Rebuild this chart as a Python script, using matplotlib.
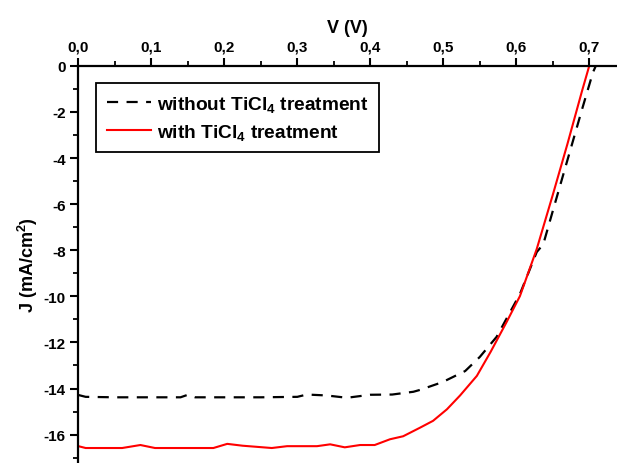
import matplotlib
matplotlib.use("Agg")
import matplotlib.pyplot as plt
from matplotlib.ticker import MultipleLocator, FuncFormatter

plt.rcParams['font.family'] = ['Liberation Sans', 'DejaVu Sans']
plt.rcParams['font.weight'] = 'bold'
plt.rcParams['mathtext.fontset'] = 'custom'
plt.rcParams['mathtext.rm'] = 'Liberation Sans:bold'
plt.rcParams['mathtext.it'] = 'Liberation Sans:bold'
plt.rcParams['mathtext.bf'] = 'Liberation Sans:bold'

# without TiCl4 (dashed black)
v_without = [0.0, 0.01, 0.05, 0.10, 0.14, 0.15, 0.16, 0.20, 0.25, 0.30, 0.313, 0.34, 0.368,
             0.40, 0.43, 0.459, 0.468, 0.499, 0.530, 0.550, 0.573, 0.605, 0.628, 0.637,
             0.65, 0.67, 0.69, 0.705, 0.709]
j_without = [-14.28, -14.36, -14.38, -14.38, -14.38, -14.27, -14.38, -14.38, -14.38, -14.36,
             -14.26, -14.3, -14.4, -14.27, -14.26, -14.14, -14.06, -13.72, -13.24, -12.63,
             -11.76, -9.9, -8.08, -7.74, -6.3, -4.1, -1.9, -0.29, 0.0]

# with TiCl4 (solid red)
v_with = [0.0, 0.01, 0.06, 0.085, 0.105, 0.185, 0.204, 0.225, 0.265, 0.286, 0.327, 0.345,
          0.365, 0.386, 0.406, 0.427, 0.445, 0.468, 0.486, 0.505, 0.523, 0.546, 0.565,
          0.587, 0.605, 0.628, 0.65, 0.67, 0.69, 0.700]
j_with = [-16.5, -16.58, -16.58, -16.45, -16.58, -16.58, -16.4, -16.48, -16.58, -16.5,
          -16.5, -16.42, -16.55, -16.45, -16.45, -16.2, -16.07, -15.7, -15.4, -14.9,
          -14.3, -13.45, -12.4, -11.1, -9.99, -7.95, -5.6, -3.4, -1.1, 0.0]

fig = plt.figure(figsize=(6.17, 4.64), dpi=100)
ax = fig.add_axes([0.127, 0.0, 0.873, 0.856])

ax.plot(v_without, j_without, color='black', lw=1.6, dashes=(5.0, 3.8),
        label='without TiCl$_4$ treatment')
ax.plot(v_with, j_with, color='#ff0000', lw=1.5, label='with TiCl$_4$ treatment')

ax.set_xlim(0, 0.738)
ax.set_ylim(-17.23, 0)

ax.spines['right'].set_visible(False)
ax.spines['bottom'].set_visible(False)
ax.spines['top'].set_linewidth(1.6)
ax.spines['left'].set_linewidth(1.6)

ax.xaxis.tick_top()
ax.xaxis.set_label_position('top')
ax.xaxis.set_major_locator(MultipleLocator(0.1))
ax.xaxis.set_minor_locator(MultipleLocator(0.05))
ax.yaxis.set_major_locator(MultipleLocator(2))
ax.yaxis.set_minor_locator(MultipleLocator(1))
ax.xaxis.set_major_formatter(FuncFormatter(lambda v, p: f"{v:.1f}".replace('.', ',')))
ax.yaxis.set_major_formatter(FuncFormatter(lambda v, p: f"{v:.0f}"))

ax.tick_params(which='major', direction='out', length=6, width=1.5, labelsize=11, pad=3)
ax.tick_params(which='minor', direction='out', length=3.5, width=1.3)
ax.tick_params(axis='x', which='both', top=True, bottom=False)
ax.tick_params(axis='y', which='both', left=True, right=False)

ax.set_xlabel('V (V)', fontsize=13, fontweight='bold', labelpad=5)
ax.set_ylabel('J (mA/cm$^2$)', fontsize=13, fontweight='bold', labelpad=3)

leg = ax.legend(loc='upper left', bbox_to_anchor=(0.033, 0.956), borderaxespad=0,
                fancybox=False, framealpha=1, edgecolor='black', fontsize=13.8,
                handlelength=2.3, handletextpad=0.3, borderpad=0.55, labelspacing=0.42)
leg.get_frame().set_linewidth(1.3)

fig.savefig('out.png', dpi=100)
